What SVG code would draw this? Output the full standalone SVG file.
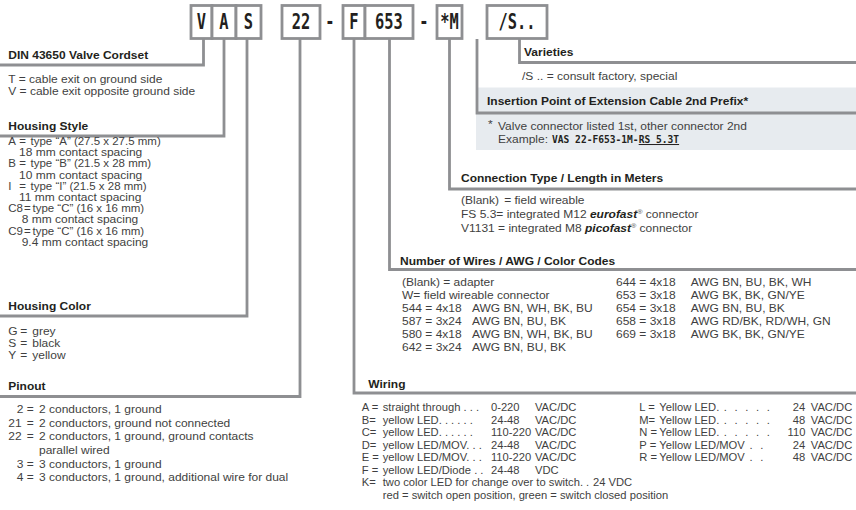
<svg xmlns="http://www.w3.org/2000/svg" width="856" height="510" viewBox="0 0 856 510">
<style>
.ln{fill:none;stroke:#8e8f92;stroke-width:2.8}
.bx{fill:#fff;stroke:#8e8f92;stroke-width:2.8}
.bt{font-family:"DejaVu Sans Mono","Liberation Mono",monospace;font-weight:bold;font-size:20.5px;fill:#231f20;text-anchor:middle}
.h{font-family:"Liberation Sans",Arial,sans-serif;font-weight:bold;font-size:10px;fill:#231f20}
.t{font-family:"Liberation Sans",Arial,sans-serif;font-size:10px;fill:#3f3f41}
.m{font-family:"DejaVu Sans Mono","Liberation Mono",monospace;font-weight:bold;font-size:10px;fill:#231f20}
.bi{font-weight:bold;font-style:italic;fill:#231f20}
.sup{font-size:6px}
.band{fill:#e7ebef}
.dots{word-spacing:4px}
</style>
<rect width="856" height="510" fill="#fff"/>

<g id="insertion-band">
<rect class="band" x="476" y="87.5" width="380" height="62.5"/>
</g>

<g id="connectors">
<path class="ln" d="M203.5 39V65H0"/>
<path class="ln" d="M224 39V136H0"/>
<path class="ln" d="M247 39V316H0"/>
<path class="ln" d="M300 39V396.5H0"/>
<path class="ln" d="M354 39V393H856"/>
<path class="ln" d="M389.5 39V269.5H856"/>
<path class="ln" d="M449.5 39V189H856"/>
<path class="ln" d="M477 39V113H856"/>
<path class="ln" d="M519.5 39V62.5H856"/>
</g>

<g id="code">
<g id="box-V"><rect class="bx" x="191" y="5.5" width="21" height="33"/><text class="bt" transform="translate(201.5 28.5) scale(0.75 1)">V</text></g>
<g id="box-A"><rect class="bx" x="212" y="5.5" width="24" height="33"/><text class="bt" transform="translate(224 28.5) scale(0.75 1)">A</text></g>
<g id="box-S"><rect class="bx" x="236" y="5.5" width="25" height="33"/><text class="bt" transform="translate(248.5 28.5) scale(0.75 1)">S</text></g>
<g id="box-22"><rect class="bx" x="282" y="5.5" width="38" height="33"/><text class="bt" transform="translate(301 28.5) scale(0.75 1)">22</text></g>
<text class="bt" transform="translate(330 28.5) scale(0.75 1)">-</text>
<g id="box-F"><rect class="bx" x="343" y="5.5" width="22" height="33"/><text class="bt" transform="translate(354 28.5) scale(0.75 1)">F</text></g>
<g id="box-653"><rect class="bx" x="365" y="5.5" width="48" height="33"/><text class="bt" transform="translate(389 28.5) scale(0.75 1)">653</text></g>
<text class="bt" transform="translate(424 28.5) scale(0.75 1)">-</text>
<g id="box-M"><rect class="bx" x="437" y="5.5" width="25" height="33"/><text class="bt" transform="translate(449.5 28.5) scale(0.75 1)">*M</text></g>
<g id="box-S2"><rect class="bx" x="487" y="5.5" width="60" height="33"/><text class="bt" transform="translate(517 28.5) scale(0.75 1)">/S..</text></g>
</g>

<g id="din">
<text class="h" transform="translate(8.3 59) scale(1.2 1)">DIN 43650 Valve Cordset</text>
<text class="t" transform="translate(8.3 82.5) scale(1.2 1)">T = cable exit on ground side</text>
<text class="t" transform="translate(8.3 94.5) scale(1.2 1)">V = cable exit opposite ground side</text>
</g>

<g id="housing-style">
<text class="h" transform="translate(8.3 130) scale(1.2 1)">Housing Style</text>
<text class="t" transform="translate(8.3 145) scale(1.15 1)"><tspan x="0">A</tspan><tspan x="9.5">=</tspan><tspan x="19.3">type “A” (27.5 x 27.5 mm)</tspan></text>
<text class="t" transform="translate(19 156.2) scale(1.2 1)">18 mm contact spacing</text>
<text class="t" transform="translate(8.3 167.4) scale(1.15 1)"><tspan x="0">B</tspan><tspan x="9.5">=</tspan><tspan x="19.3">type “B” (21.5 x 28 mm)</tspan></text>
<text class="t" transform="translate(19 178.6) scale(1.2 1)">10 mm contact spacing</text>
<text class="t" transform="translate(8.3 189.8) scale(1.15 1)"><tspan x="0">I</tspan><tspan x="9.5">=</tspan><tspan x="19.3">type “I” (21.5 x 28 mm)</tspan></text>
<text class="t" transform="translate(19 201) scale(1.2 1)">11 mm contact spacing</text>
<text class="t" transform="translate(8.3 212.2) scale(1.15 1)"><tspan x="0">C8</tspan><tspan x="13.6">=</tspan><tspan x="21">type “C” (16 x 16 mm)</tspan></text>
<text class="t" transform="translate(21.7 223.4) scale(1.2 1)">8 mm contact spacing</text>
<text class="t" transform="translate(8.3 234.6) scale(1.15 1)"><tspan x="0">C9</tspan><tspan x="13.6">=</tspan><tspan x="21">type “C” (16 x 16 mm)</tspan></text>
<text class="t" transform="translate(21.7 245.8) scale(1.2 1)">9.4 mm contact spacing</text>
</g>

<g id="housing-color">
<text class="h" transform="translate(8.3 310) scale(1.2 1)">Housing Color</text>
<text class="t" transform="translate(8.3 335) scale(1.2 1)"><tspan x="0">G</tspan><tspan x="10">=</tspan><tspan x="20">grey</tspan></text>
<text class="t" transform="translate(8.3 347) scale(1.2 1)"><tspan x="0">S</tspan><tspan x="10">=</tspan><tspan x="20">black</tspan></text>
<text class="t" transform="translate(8.3 359) scale(1.2 1)"><tspan x="0">Y</tspan><tspan x="10">=</tspan><tspan x="20">yellow</tspan></text>
</g>

<g id="pinout">
<text class="h" transform="translate(8.3 390) scale(1.2 1)">Pinout</text>
<text class="t" transform="translate(8.3 413) scale(1.2 1)"><tspan x="7">2</tspan><tspan x="15.3">=</tspan><tspan x="25.6">2 conductors, 1 ground</tspan></text>
<text class="t" transform="translate(8.3 426.7) scale(1.2 1)"><tspan x="0">21</tspan><tspan x="15.3">=</tspan><tspan x="25.6">2 conductors, ground not connected</tspan></text>
<text class="t" transform="translate(8.3 440.4) scale(1.2 1)"><tspan x="0">22</tspan><tspan x="15.3">=</tspan><tspan x="25.6">2 conductors, 1 ground, ground contacts</tspan></text>
<text class="t" transform="translate(8.3 454) scale(1.2 1)"><tspan x="25.6">parallel wired</tspan></text>
<text class="t" transform="translate(8.3 467.7) scale(1.2 1)"><tspan x="7">3</tspan><tspan x="15.3">=</tspan><tspan x="25.6">3 conductors, 1 ground</tspan></text>
<text class="t" transform="translate(8.3 481.4) scale(1.2 1)"><tspan x="7">4</tspan><tspan x="15.3">=</tspan><tspan x="25.6">3 conductors, 1 ground, additional wire for dual</tspan></text>
</g>

<g id="varieties">
<text class="h" transform="translate(524 55.5) scale(1.2 1)">Varieties</text>
<text class="t" transform="translate(522 79.5) scale(1.2 1)">/S .. = consult factory, special</text>
</g>

<g id="insertion">
<text class="h" transform="translate(487 105) scale(1.2 1)">Insertion Point of Extension Cable 2nd Prefix*</text>
<text class="t" transform="translate(488 128) scale(1.2 1)">*</text>
<text class="t" transform="translate(498 130) scale(1.2 1)">Valve connector listed 1st, other connector 2nd</text>
<text class="t" transform="translate(498 143) scale(1.2 1)">Example:</text>
<text class="m" transform="translate(552 143) scale(0.96 1)">VAS 22-F653-1M-<tspan text-decoration="underline">RS 5.3T</tspan></text>
</g>

<g id="connection-type">
<text class="h" transform="translate(461 182) scale(1.2 1)">Connection Type / Length in Meters</text>
<text class="t" transform="translate(461 204) scale(1.2 1)"><tspan x="0">(Blank)</tspan><tspan x="36">= field wireable</tspan></text>
<text class="t" transform="translate(461 218) scale(1.2 1)">FS 5.3= integrated M12 <tspan class="bi">eurofast</tspan><tspan class="sup" dy="-4">®</tspan><tspan dy="4"> connector</tspan></text>
<text class="t" transform="translate(461 231.5) scale(1.2 1)">V1131 = integrated M8 <tspan class="bi">picofast</tspan><tspan class="sup" dy="-4">®</tspan><tspan dy="4"> connector</tspan></text>
</g>

<g id="wires">
<text class="h" transform="translate(400 264.5) scale(1.2 1)">Number of Wires / AWG / Color Codes</text>
<text class="t" transform="translate(402 286) scale(1.2 1)">(Blank) = adapter</text>
<text class="t" transform="translate(402 298.9) scale(1.2 1)">W= field wireable connector</text>
<text class="t" transform="translate(402 311.8) scale(1.2 1)"><tspan x="0">544 = 4x18</tspan><tspan x="58.3">AWG BN, WH, BK, BU</tspan></text>
<text class="t" transform="translate(402 324.7) scale(1.2 1)"><tspan x="0">587 = 3x24</tspan><tspan x="58.3">AWG BN, BU, BK</tspan></text>
<text class="t" transform="translate(402 337.6) scale(1.2 1)"><tspan x="0">580 = 4x18</tspan><tspan x="58.3">AWG BN, WH, BK, BU</tspan></text>
<text class="t" transform="translate(402 350.5) scale(1.2 1)"><tspan x="0">642 = 3x24</tspan><tspan x="58.3">AWG BN, BU, BK</tspan></text>
<text class="t" transform="translate(616 286) scale(1.2 1)"><tspan x="0">644 = 4x18</tspan><tspan x="62.25">AWG BN, BU, BK, WH</tspan></text>
<text class="t" transform="translate(616 298.9) scale(1.2 1)"><tspan x="0">653 = 3x18</tspan><tspan x="62.25">AWG BK, BK, GN/YE</tspan></text>
<text class="t" transform="translate(616 311.8) scale(1.2 1)"><tspan x="0">654 = 3x18</tspan><tspan x="62.25">AWG BN, BU, BK</tspan></text>
<text class="t" transform="translate(616 324.7) scale(1.2 1)"><tspan x="0">658 = 3x18</tspan><tspan x="62.25">AWG RD/BK, RD/WH, GN</tspan></text>
<text class="t" transform="translate(616 337.6) scale(1.2 1)"><tspan x="0">669 = 3x18</tspan><tspan x="62.25">AWG BK, BK, GN/YE</tspan></text>
</g>

<g id="wiring">
<text class="h" transform="translate(368.3 388.3) scale(1.2 1)">Wiring</text>
<text class="t" transform="translate(361.7 411) scale(1.12 1)"><tspan x="0">A =</tspan><tspan x="18.75">straight through . . .</tspan><tspan x="115.4">0-220</tspan><tspan x="154.7">VAC/DC</tspan></text>
<text class="t" transform="translate(361.7 423.55) scale(1.12 1)"><tspan x="0">B=</tspan><tspan x="18.75">yellow LED. . . . . .</tspan><tspan x="115.4">24-48</tspan><tspan x="154.7">VAC/DC</tspan></text>
<text class="t" transform="translate(361.7 436.1) scale(1.12 1)"><tspan x="0">C=</tspan><tspan x="18.75">yellow LED. . . . . .</tspan><tspan x="115.4">110-220</tspan><tspan x="154.7">VAC/DC</tspan></text>
<text class="t" transform="translate(361.7 448.65) scale(1.12 1)"><tspan x="0">D=</tspan><tspan x="18.75">yellow LED/MOV. . .</tspan><tspan x="115.4">24-48</tspan><tspan x="154.7">VAC/DC</tspan></text>
<text class="t" transform="translate(361.7 461.2) scale(1.12 1)"><tspan x="0">E =</tspan><tspan x="18.75">yellow LED/MOV. . .</tspan><tspan x="115.4">110-220</tspan><tspan x="154.7">VAC/DC</tspan></text>
<text class="t" transform="translate(361.7 473.75) scale(1.12 1)"><tspan x="0">F =</tspan><tspan x="18.75">yellow LED/Diode . .</tspan><tspan x="115.4">24-48</tspan><tspan x="154.7">VDC</tspan></text>
<text class="t" transform="translate(361.7 486.3) scale(1.12 1)"><tspan x="0">K=</tspan><tspan x="18.75">two color LED for change over to switch. .</tspan><tspan x="206.5">24 VDC</tspan></text>
<text class="t" transform="translate(361.7 498.85) scale(1.12 1)"><tspan x="18.75">red = switch open position, green = switch closed position</tspan></text>
<text class="t" transform="translate(639.3 411) scale(1.12 1)"><tspan x="0">L =</tspan><tspan x="17.9">Yellow LED.</tspan><tspan class="dots" x="75.5">. . . . .</tspan><tspan x="137">24</tspan><tspan x="153.1">VAC/DC</tspan></text>
<text class="t" transform="translate(639.3 423.55) scale(1.12 1)"><tspan x="0">M=</tspan><tspan x="17.9">Yellow LED.</tspan><tspan class="dots" x="75.5">. . . . .</tspan><tspan x="137">48</tspan><tspan x="153.1">VAC/DC</tspan></text>
<text class="t" transform="translate(639.3 436.1) scale(1.12 1)"><tspan x="0">N =</tspan><tspan x="17.9">Yellow LED.</tspan><tspan class="dots" x="75.5">. . . . .</tspan><tspan x="132.4">110</tspan><tspan x="153.1">VAC/DC</tspan></text>
<text class="t" transform="translate(639.3 448.65) scale(1.12 1)"><tspan x="0">P =</tspan><tspan x="17.9">Yellow LED/MOV</tspan><tspan class="dots" x="98.5">. .</tspan><tspan x="137">24</tspan><tspan x="153.1">VAC/DC</tspan></text>
<text class="t" transform="translate(639.3 461.2) scale(1.12 1)"><tspan x="0">R =</tspan><tspan x="17.9">Yellow LED/MOV</tspan><tspan class="dots" x="98.5">. .</tspan><tspan x="137">48</tspan><tspan x="153.1">VAC/DC</tspan></text>
</g>
</svg>
